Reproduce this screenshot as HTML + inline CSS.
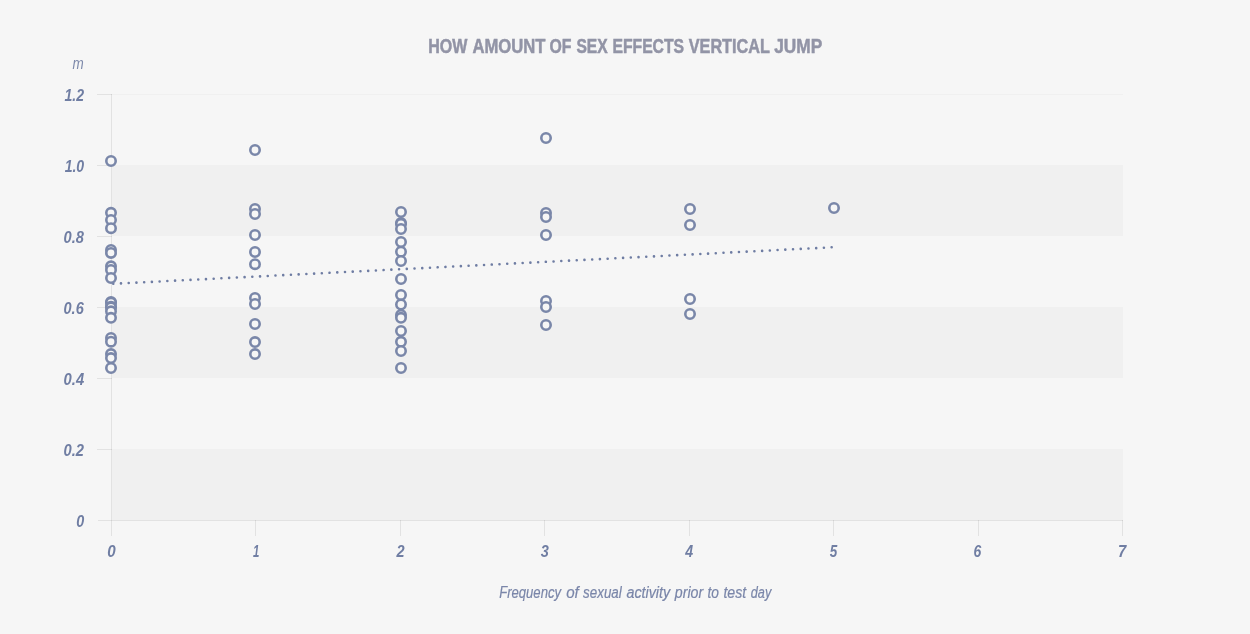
<!DOCTYPE html>
<html lang="en">
<head>
<meta charset="utf-8">
<title>How amount of sex effects vertical jump</title>
<style>
html,body{margin:0;padding:0;background:#f6f6f6;}
body{width:1250px;height:634px;overflow:hidden;font-family:"Liberation Sans",sans-serif;}
svg{display:block;}
text{font-family:"Liberation Sans",sans-serif;}
.t{font-weight:bold;fill:#9294a6;stroke:#9294a6;stroke-width:0.5px;font-size:19.3px;}
.yl,.xl{font-weight:bold;font-style:italic;fill:#707ea3;font-size:15.8px;}
.u{font-style:italic;fill:#7e8aab;font-size:16.5px;}
.xt{font-style:italic;fill:#7a86a9;stroke:#7a86a9;stroke-width:0.2px;font-size:16px;}
.ax{fill:#000;fill-opacity:.08;}
.bd{fill:#f0f0f0;}
.pt circle{fill:#f6f6f6;stroke:#7a87a9;stroke-width:2.6;}
</style>
</head>
<body>
<svg width="1250" height="634" viewBox="0 0 1250 634">
<rect width="1250" height="634" fill="#f6f6f6"/>

<rect class="bd" x="112" y="165" width="1011" height="71"/>
<rect class="bd" x="112" y="307" width="1011" height="71"/>
<rect class="bd" x="112" y="449" width="1011" height="71"/>
<rect class="bd" x="112" y="94" width="1011" height="1"/>
<rect class="ax" x="111" y="94" width="1" height="442"/>
<rect class="ax" x="97" y="94" width="15" height="1"/>
<rect class="ax" x="97" y="165" width="15" height="1"/>
<rect class="ax" x="97" y="236" width="15" height="1"/>
<rect class="ax" x="97" y="307" width="15" height="1"/>
<rect class="ax" x="97" y="378" width="15" height="1"/>
<rect class="ax" x="97" y="449" width="15" height="1"/>
<rect class="ax" x="98" y="520" width="1025" height="1"/>
<rect class="ax" x="255" y="520" width="1" height="16"/>
<rect class="ax" x="400" y="520" width="1" height="16"/>
<rect class="ax" x="544" y="520" width="1" height="16"/>
<rect class="ax" x="689" y="520" width="1" height="16"/>
<rect class="ax" x="833" y="520" width="1" height="16"/>
<rect class="ax" x="978" y="520" width="1" height="16"/>
<rect class="ax" x="1122" y="520" width="1" height="16"/>
<text class="t" y="53" transform="translate(0.3,-0.3)"><tspan x="427.9" textLength="39.11" lengthAdjust="spacingAndGlyphs">HOW</tspan> <tspan x="472.19" textLength="72.96" lengthAdjust="spacingAndGlyphs">AMOUNT</tspan> <tspan x="549.18" textLength="21.96" lengthAdjust="spacingAndGlyphs">OF</tspan> <tspan x="576.14" textLength="31.23" lengthAdjust="spacingAndGlyphs">SEX</tspan> <tspan x="612.11" textLength="71.69" lengthAdjust="spacingAndGlyphs">EFFECTS</tspan> <tspan x="688.44" textLength="80.84" lengthAdjust="spacingAndGlyphs">VERTICAL</tspan> <tspan x="773.94" textLength="48.05" lengthAdjust="spacingAndGlyphs">JUMP</tspan></text>
<text class="u" x="72.6" y="69" textLength="11.2" lengthAdjust="spacingAndGlyphs">m</text>
<text class="yl" x="64.44" y="101" textLength="19.59" lengthAdjust="spacingAndGlyphs">1.2</text>
<text class="yl" x="64.64" y="172" textLength="19.59" lengthAdjust="spacingAndGlyphs">1.0</text>
<text class="yl" x="63.56" y="243" textLength="20.38" lengthAdjust="spacingAndGlyphs">0.8</text>
<text class="yl" x="63.56" y="314" textLength="20.18" lengthAdjust="spacingAndGlyphs">0.6</text>
<text class="yl" x="63.55" y="385" textLength="20.57" lengthAdjust="spacingAndGlyphs">0.4</text>
<text class="yl" x="63.56" y="456" textLength="20.48" lengthAdjust="spacingAndGlyphs">0.2</text>
<text class="yl" x="76.17" y="527" textLength="8.01" lengthAdjust="spacingAndGlyphs">0</text>
<text class="xl" x="107.34" y="557" textLength="8.45" lengthAdjust="spacingAndGlyphs">0</text>
<text class="xl" x="253.09" y="557" textLength="6.36" lengthAdjust="spacingAndGlyphs">1</text>
<text class="xl" x="396.38" y="557" textLength="8.1" lengthAdjust="spacingAndGlyphs">2</text>
<text class="xl" x="540.71" y="557" textLength="8.07" lengthAdjust="spacingAndGlyphs">3</text>
<text class="xl" x="685.27" y="557" textLength="7.9" lengthAdjust="spacingAndGlyphs">4</text>
<text class="xl" x="829.73" y="557" textLength="7.5" lengthAdjust="spacingAndGlyphs">5</text>
<text class="xl" x="973.54" y="557" textLength="7.77" lengthAdjust="spacingAndGlyphs">6</text>
<text class="xl" x="1117.88" y="557" textLength="8.26" lengthAdjust="spacingAndGlyphs">7</text>
<text class="xt" y="598"><tspan x="499.19" textLength="61.83" lengthAdjust="spacingAndGlyphs">Frequency</tspan> <tspan x="566.13" textLength="12.59" lengthAdjust="spacingAndGlyphs">of</tspan> <tspan x="583.12" textLength="38.59" lengthAdjust="spacingAndGlyphs">sexual</tspan> <tspan x="626.44" textLength="43.73" lengthAdjust="spacingAndGlyphs">activity</tspan> <tspan x="674.76" textLength="28.41" lengthAdjust="spacingAndGlyphs">prior</tspan> <tspan x="707.4" textLength="11.47" lengthAdjust="spacingAndGlyphs">to</tspan> <tspan x="723.38" textLength="22.77" lengthAdjust="spacingAndGlyphs">test</tspan> <tspan x="750.8" textLength="20.44" lengthAdjust="spacingAndGlyphs">day</tspan></text>
<path d="M113.26,283.8L831.69,247.30" fill="none" stroke="#6f7da3" stroke-width="2.6" stroke-linecap="round" stroke-dasharray="0.01 7.7245"/>
<g class="pt">
<circle cx="111" cy="161" r="4.7"/>
<circle cx="111" cy="212.8" r="4.7"/>
<circle cx="111" cy="220" r="4.7"/>
<circle cx="111" cy="228.2" r="4.7"/>
<circle cx="111" cy="250" r="4.7"/>
<circle cx="111" cy="252.9" r="4.7"/>
<circle cx="111" cy="266.3" r="4.7"/>
<circle cx="111" cy="269.9" r="4.7"/>
<circle cx="111" cy="278" r="4.7"/>
<circle cx="111" cy="302" r="4.7"/>
<circle cx="111" cy="302.7" r="4.7"/>
<circle cx="111" cy="306.8" r="4.7"/>
<circle cx="111" cy="307.3" r="4.7"/>
<circle cx="111" cy="311.3" r="4.7"/>
<circle cx="111" cy="317.8" r="4.7"/>
<circle cx="111" cy="337.9" r="4.7"/>
<circle cx="111" cy="341.7" r="4.7"/>
<circle cx="111" cy="354.1" r="4.7"/>
<circle cx="111" cy="358.1" r="4.7"/>
<circle cx="111" cy="368" r="4.7"/>
<circle cx="255" cy="150" r="4.7"/>
<circle cx="255" cy="209" r="4.7"/>
<circle cx="255" cy="214" r="4.7"/>
<circle cx="255" cy="235" r="4.7"/>
<circle cx="255" cy="252" r="4.7"/>
<circle cx="255" cy="264.2" r="4.7"/>
<circle cx="255" cy="298" r="4.7"/>
<circle cx="255" cy="304" r="4.7"/>
<circle cx="255" cy="324" r="4.7"/>
<circle cx="255" cy="342.1" r="4.7"/>
<circle cx="255" cy="354.1" r="4.7"/>
<circle cx="401" cy="212" r="4.7"/>
<circle cx="401" cy="223" r="4.7"/>
<circle cx="401" cy="224" r="4.7"/>
<circle cx="401" cy="229" r="4.7"/>
<circle cx="401" cy="242" r="4.7"/>
<circle cx="401" cy="251.7" r="4.7"/>
<circle cx="401" cy="261" r="4.7"/>
<circle cx="401" cy="279" r="4.7"/>
<circle cx="401" cy="295" r="4.7"/>
<circle cx="401" cy="304.5" r="4.7"/>
<circle cx="401" cy="314.9" r="4.7"/>
<circle cx="401" cy="317.8" r="4.7"/>
<circle cx="401" cy="331" r="4.7"/>
<circle cx="401" cy="341.8" r="4.7"/>
<circle cx="401" cy="351" r="4.7"/>
<circle cx="401" cy="368" r="4.7"/>
<circle cx="546" cy="138" r="4.7"/>
<circle cx="546" cy="213" r="4.7"/>
<circle cx="546" cy="217" r="4.7"/>
<circle cx="546" cy="235" r="4.7"/>
<circle cx="546" cy="301" r="4.7"/>
<circle cx="546" cy="307" r="4.7"/>
<circle cx="546" cy="325" r="4.7"/>
<circle cx="690" cy="209" r="4.7"/>
<circle cx="690" cy="225" r="4.7"/>
<circle cx="690" cy="299" r="4.7"/>
<circle cx="690" cy="314" r="4.7"/>
<circle cx="834" cy="208" r="4.7"/>
</g>
</svg>
</body>
</html>
